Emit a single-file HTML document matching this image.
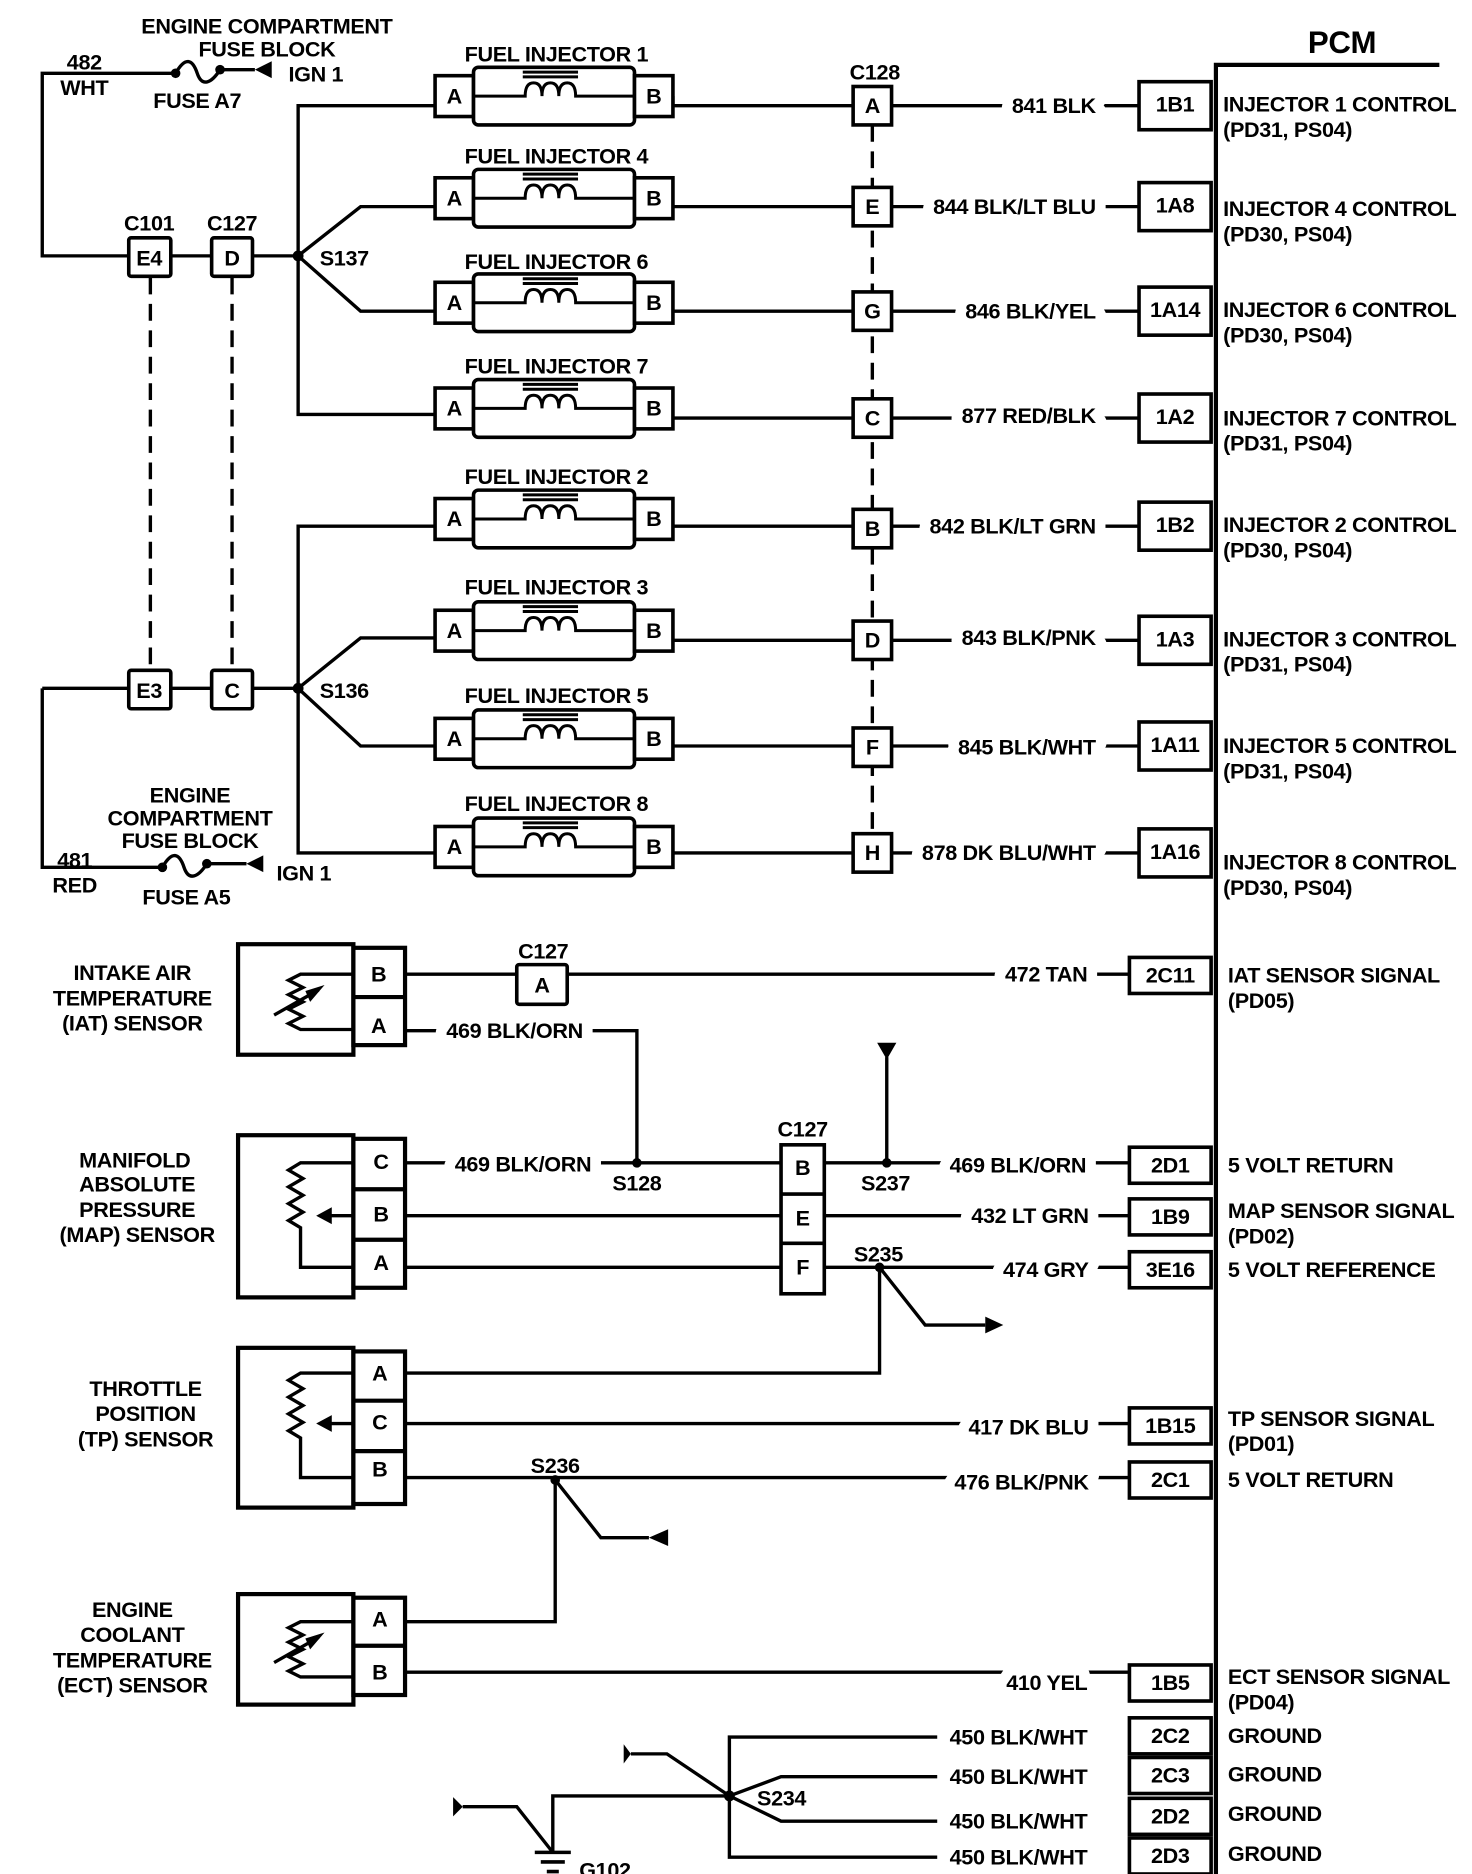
<!DOCTYPE html>
<html><head><meta charset="utf-8"><style>
html,body{margin:0;padding:0;background:#fff;}
svg{display:block}
text{font-family:"Liberation Sans",Arial,sans-serif;font-size:18px;font-weight:bold;fill:#000;letter-spacing:-0.3px}
.h{paint-order:stroke;stroke:#fff;stroke-width:18px;stroke-linejoin:round}
.c{text-anchor:middle}
.e{text-anchor:end}
</style></head><body>
<svg width="1472" height="1874" viewBox="0 0 1225 1560" xmlns="http://www.w3.org/2000/svg">
<defs>
<g id="inj" fill="none" stroke="#000">
<rect x="362" y="-17" width="32" height="34" stroke-width="3" fill="#fff"/>
<rect x="394" y="-24" width="134" height="48" rx="4" stroke-width="3" fill="#fff"/>
<path d="M394 0H437 q0 -11 7 -11 q7 0 7 11 q0 -11 7 -11 q7 0 7 11 q0 -11 7 -11 q7 0 7 11 H528" stroke-width="2.5"/>
<path d="M435 -16H481M435 -20H481" stroke-width="2.5"/>
<rect x="528" y="-17" width="32" height="34" stroke-width="3" fill="#fff"/>
</g>
</defs>
<g stroke="#000" fill="none" stroke-width="2.8">
<path d="M1012 1560V54H1198" stroke-width="3.5"/>
<path d="M146 61H35V213H248"/>
<path d="M146 61c8-14 14-12 18 0s12 8 19-3"/>
<path d="M183 58H212"/>
<path d="M35 573H248M35 573V722H135"/>
<path d="M135 722c8-14 14-12 18 0s12 8 19-3"/>
<path d="M172 719H205"/>
<path d="M125 231V558M193 231V558" stroke-dasharray="14 8"/>
<path d="M726 104V694" stroke-dasharray="14 8"/>
<path d="M362 88H248V345H362M248 213L300 172H362M248 213L300 259H362"/>
<path d="M362 438H248V710H362M248 573L300 531H362M248 573L300 621H362"/>
<path d="M560 80L560 88H710M742 88H948"/>
<path d="M560 172H710M742 172H948"/>
<path d="M560 259H710M742 259H948"/>
<path d="M560 348H710M742 348H948"/>
<path d="M560 438H710M742 438H948"/>
<path d="M560 533H710M742 533H948"/>
<path d="M560 621H710M742 621H948"/>
<path d="M560 710H710M742 710H948"/>
</g>
<use href="#inj" y="80"/><use href="#inj" y="165"/><use href="#inj" y="252"/><use href="#inj" y="340"/>
<use href="#inj" y="432"/><use href="#inj" y="525"/><use href="#inj" y="615"/><use href="#inj" y="705"/>
<g fill="#000">
<circle cx="146" cy="61" r="4"/><circle cx="183" cy="58" r="4"/>
<circle cx="135" cy="722" r="4"/><circle cx="172" cy="719" r="4"/>
<circle cx="248" cy="213" r="4.5"/><circle cx="248" cy="573" r="4.5"/>
<path d="M212 58L226 51V65Z"/><path d="M205 719L219 712V726Z"/>
</g>
<g fill="#fff" stroke="#000" stroke-width="3">
<rect x="107" y="198" width="35" height="32" rx="2"/><rect x="176" y="198" width="34" height="32" rx="2"/>
<rect x="107" y="558" width="35" height="32" rx="2"/><rect x="176" y="558" width="34" height="32" rx="2"/>
<rect x="710" y="72" width="32" height="32"/><rect x="710" y="156" width="32" height="32"/>
<rect x="710" y="243" width="32" height="32"/><rect x="710" y="332" width="32" height="32"/>
<rect x="710" y="424" width="32" height="32"/><rect x="710" y="517" width="32" height="32"/>
<rect x="710" y="606" width="32" height="32"/><rect x="710" y="694" width="32" height="32"/>
<rect x="948" y="68" width="60" height="40"/><rect x="948" y="152" width="60" height="40"/>
<rect x="948" y="239" width="60" height="40"/><rect x="948" y="328" width="60" height="40"/>
<rect x="948" y="418" width="60" height="40"/><rect x="948" y="513" width="60" height="40"/>
<rect x="948" y="601" width="60" height="40"/><rect x="948" y="690" width="60" height="40"/>
</g>
<g>
<text x="222" y="28" class="c">ENGINE COMPARTMENT</text><text x="222" y="47" class="c">FUSE BLOCK</text>
<text x="240" y="68">IGN 1</text><text x="164" y="90" class="c">FUSE A7</text>
<text x="70" y="58" class="c">482</text><text x="70" y="79" class="c">WHT</text>
<text x="124" y="192" class="c">C101</text><text x="193" y="192" class="c">C127</text>
<text x="124" y="221" class="c">E4</text><text x="193" y="221" class="c">D</text>
<text x="124" y="581" class="c">E3</text><text x="193" y="581" class="c">C</text>
<text x="266" y="221">S137</text><text x="266" y="581">S136</text>
<text x="158" y="668" class="c">ENGINE</text><text x="158" y="687" class="c">COMPARTMENT</text><text x="158" y="706" class="c">FUSE BLOCK</text>
<text x="230" y="733">IGN 1</text><text x="155" y="753" class="c">FUSE A5</text>
<text x="62" y="722" class="c">481</text><text x="62" y="743" class="c">RED</text>
<text x="463" y="51" class="c">FUEL INJECTOR 1</text><text x="463" y="136" class="c">FUEL INJECTOR 4</text>
<text x="463" y="224" class="c">FUEL INJECTOR 6</text><text x="463" y="311" class="c">FUEL INJECTOR 7</text>
<text x="463" y="403" class="c">FUEL INJECTOR 2</text><text x="463" y="495" class="c">FUEL INJECTOR 3</text>
<text x="463" y="585" class="c">FUEL INJECTOR 5</text><text x="463" y="675" class="c">FUEL INJECTOR 8</text>
<text x="378" y="86" class="c">A</text><text x="544" y="86" class="c">B</text>
<text x="378" y="171" class="c">A</text><text x="544" y="171" class="c">B</text>
<text x="378" y="258" class="c">A</text><text x="544" y="258" class="c">B</text>
<text x="378" y="346" class="c">A</text><text x="544" y="346" class="c">B</text>
<text x="378" y="438" class="c">A</text><text x="544" y="438" class="c">B</text>
<text x="378" y="531" class="c">A</text><text x="544" y="531" class="c">B</text>
<text x="378" y="621" class="c">A</text><text x="544" y="621" class="c">B</text>
<text x="378" y="711" class="c">A</text><text x="544" y="711" class="c">B</text>
<text x="728" y="66" class="c">C128</text>
<text x="726" y="94" class="c">A</text><text x="726" y="178" class="c">E</text><text x="726" y="265" class="c">G</text><text x="726" y="354" class="c">C</text>
<text x="726" y="446" class="c">B</text><text x="726" y="539" class="c">D</text><text x="726" y="628" class="c">F</text><text x="726" y="716" class="c">H</text>
<text x="912" y="94" class="e h">841 BLK</text><text x="912" y="178" class="e h">844 BLK/LT BLU</text>
<text x="912" y="265" class="e h">846 BLK/YEL</text><text x="912" y="352" class="e h">877 RED/BLK</text>
<text x="912" y="444" class="e h">842 BLK/LT GRN</text><text x="912" y="537" class="e h">843 BLK/PNK</text>
<text x="912" y="628" class="e h">845 BLK/WHT</text><text x="912" y="716" class="e h">878 DK BLU/WHT</text>
<text x="978" y="93" class="c">1B1</text><text x="978" y="177" class="c">1A8</text><text x="978" y="264" class="c">1A14</text><text x="978" y="353" class="c">1A2</text>
<text x="978" y="443" class="c">1B2</text><text x="978" y="538" class="c">1A3</text><text x="978" y="626" class="c">1A11</text><text x="978" y="715" class="c">1A16</text>
<text x="1018" y="93">INJECTOR 1 CONTROL</text><text x="1018" y="114">(PD31, PS04)</text>
<text x="1018" y="180">INJECTOR 4 CONTROL</text><text x="1018" y="201">(PD30, PS04)</text>
<text x="1018" y="264">INJECTOR 6 CONTROL</text><text x="1018" y="285">(PD30, PS04)</text>
<text x="1018" y="354">INJECTOR 7 CONTROL</text><text x="1018" y="375">(PD31, PS04)</text>
<text x="1018" y="443">INJECTOR 2 CONTROL</text><text x="1018" y="464">(PD30, PS04)</text>
<text x="1018" y="538">INJECTOR 3 CONTROL</text><text x="1018" y="559">(PD31, PS04)</text>
<text x="1018" y="627">INJECTOR 5 CONTROL</text><text x="1018" y="648">(PD31, PS04)</text>
<text x="1018" y="724">INJECTOR 8 CONTROL</text><text x="1018" y="745">(PD30, PS04)</text>
<text x="1117" y="44" class="c" style="font-size:26px;font-weight:bold">PCM</text>
</g>

<g stroke="#000" fill="none" stroke-width="2.8">
<path d="M337 811H430M472 811H940"/>
<path d="M337 858H530V968"/>
<path d="M337 968H650M686 968H940M738 968V880"/>
<path d="M337 1012H650M686 1012H940"/>
<path d="M337 1055H650M686 1055H940"/>
<path d="M732 1055V1143H337M732 1055L770 1103H820"/>
<path d="M337 1185H940M337 1230H940"/>
<path d="M462 1232V1350H337M462 1232L500 1280H540"/>
<path d="M337 1392H940"/>
<path d="M780 1446H607V1546H780M607 1495L650 1479H780M607 1495L650 1516H780"/>
<path d="M607 1495L555 1460H525M607 1495H460V1542M460 1542L430 1504H385"/>
<path d="M445 1542H475" stroke-width="3"/><path d="M450 1550H470M455 1558H465" stroke-width="3"/>
<g stroke-width="3.5">
<rect x="198" y="786" width="96" height="92"/><rect x="294" y="789" width="43" height="81"/>
<path d="M294 830H337"/>
<rect x="198" y="945" width="96" height="135"/><rect x="294" y="948" width="43" height="124"/>
<path d="M294 990H337M294 1032H337"/>
<rect x="198" y="1122" width="96" height="133"/><rect x="294" y="1125" width="43" height="127"/>
<path d="M294 1166H337M294 1208H337"/>
<rect x="198" y="1327" width="96" height="92"/><rect x="294" y="1330" width="43" height="81"/>
<path d="M294 1370H337"/>
</g>
<path d="M294 811H250l-10 5 12 6-12 6 12 6-12 6 12 6-12 6 10 5H294"/>
<path d="M228 845L265 824"/>
<path d="M294 968H250l-10 6 12 7-12 7 12 7-12 7 12 7-12 7 10 6V1055H294M294 1012H270"/>
<path d="M294 1143H250l-10 6 12 7-12 7 12 7-12 7 12 7-12 7 10 6V1230H294M294 1185H270"/>
<path d="M294 1350H250l-10 5 12 6-12 6 12 6-12 6 12 6-12 6 10 5H294"/>
<path d="M228 1384L265 1363"/>
</g>
<g fill="#000">
<path d="M270 820L258 834 254 825Z"/><path d="M263 1012L276 1005V1019Z"/><path d="M263 1185L276 1178V1192Z"/>
<path d="M270 1359L258 1373 254 1364Z"/>
<path d="M730 868H746L738 882Z"/>
<path d="M835 1103L820 1096V1110Z"/>
<path d="M540 1280L556 1273V1287Z"/>
<path d="M525 1460L519 1452V1468Z"/><path d="M385 1504L377 1496V1512Z"/>
<circle cx="530" cy="968" r="4"/><circle cx="738" cy="968" r="4"/><circle cx="732" cy="1055" r="4"/>
<circle cx="462" cy="1232" r="4"/><circle cx="607" cy="1495" r="4.5"/>
</g>
<g fill="#fff" stroke="#000" stroke-width="3">
<rect x="430" y="803" width="42" height="33" rx="2"/>
<rect x="650" y="953" width="36" height="124"/>
<path d="M650 994H686M650 1035H686"/>
<rect x="940" y="797" width="68" height="30"/>
<rect x="940" y="955" width="68" height="30"/><rect x="940" y="998" width="68" height="30"/><rect x="940" y="1042" width="68" height="30"/>
<rect x="940" y="1172" width="68" height="30"/><rect x="940" y="1217" width="68" height="30"/>
<rect x="940" y="1386" width="68" height="30"/>
<rect x="940" y="1430" width="68" height="30"/><rect x="940" y="1463" width="68" height="30"/>
<rect x="940" y="1497" width="68" height="30"/><rect x="940" y="1530" width="68" height="30"/>
</g>
<g>
<text x="110" y="816" class="c">INTAKE AIR</text><text x="110" y="837" class="c">TEMPERATURE</text><text x="110" y="858" class="c">(IAT) SENSOR</text>
<text x="315" y="817" class="c">B</text><text x="315" y="860" class="c">A</text>
<text x="452" y="798" class="c">C127</text><text x="451" y="826" class="c">A</text>
<text x="905" y="817" class="e h">472 TAN</text>
<text x="485" y="864" class="e h">469 BLK/ORN</text>
<text x="112" y="972" class="c">MANIFOLD</text><text x="114" y="992" class="c">ABSOLUTE</text><text x="114" y="1013" class="c">PRESSURE</text><text x="114" y="1034" class="c">(MAP) SENSOR</text>
<text x="317" y="973" class="c">C</text><text x="317" y="1017" class="c">B</text><text x="317" y="1057" class="c">A</text>
<text x="492" y="975" class="e h">469 BLK/ORN</text>
<text x="530" y="991" class="c">S128</text>
<text x="668" y="946" class="c">C127</text>
<text x="668" y="978" class="c">B</text><text x="668" y="1020" class="c">E</text><text x="668" y="1061" class="c">F</text>
<text x="737" y="991" class="c">S237</text>
<text x="904" y="976" class="e h">469 BLK/ORN</text>
<text x="906" y="1018" class="e h">432 LT GRN</text>
<text x="731" y="1050" class="c">S235</text>
<text x="906" y="1063" class="e h">474 GRY</text>
<text x="121" y="1162" class="c">THROTTLE</text><text x="121" y="1183" class="c">POSITION</text><text x="121" y="1204" class="c">(TP) SENSOR</text>
<text x="316" y="1149" class="c">A</text><text x="316" y="1190" class="c">C</text><text x="316" y="1229" class="c">B</text>
<text x="906" y="1194" class="e h">417 DK BLU</text>
<text x="906" y="1240" class="e h">476 BLK/PNK</text>
<text x="462" y="1226" class="c">S236</text>
<text x="110" y="1346" class="c">ENGINE</text><text x="110" y="1367" class="c">COOLANT</text><text x="110" y="1388" class="c">TEMPERATURE</text><text x="110" y="1409" class="c">(ECT) SENSOR</text>
<text x="316" y="1354" class="c">A</text><text x="316" y="1398" class="c">B</text>
<text x="905" y="1407" class="e h">410 YEL</text>
<text x="905" y="1452" class="e h">450 BLK/WHT</text><text x="905" y="1485" class="e h">450 BLK/WHT</text>
<text x="905" y="1522" class="e h">450 BLK/WHT</text><text x="905" y="1552" class="e h">450 BLK/WHT</text>
<text x="630" y="1503">S234</text><text x="482" y="1563">G102</text>
<text x="974" y="818" class="c">2C11</text><text x="974" y="976" class="c">2D1</text><text x="974" y="1019" class="c">1B9</text><text x="974" y="1063" class="c">3E16</text>
<text x="974" y="1193" class="c">1B15</text><text x="974" y="1238" class="c">2C1</text><text x="974" y="1407" class="c">1B5</text>
<text x="974" y="1451" class="c">2C2</text><text x="974" y="1484" class="c">2C3</text><text x="974" y="1518" class="c">2D2</text><text x="974" y="1551" class="c">2D3</text>
<text x="1022" y="818">IAT SENSOR SIGNAL</text><text x="1022" y="839">(PD05)</text>
<text x="1022" y="976">5 VOLT RETURN</text>
<text x="1022" y="1014">MAP SENSOR SIGNAL</text><text x="1022" y="1035">(PD02)</text>
<text x="1022" y="1063">5 VOLT REFERENCE</text>
<text x="1022" y="1187">TP SENSOR SIGNAL</text><text x="1022" y="1208">(PD01)</text>
<text x="1022" y="1238">5 VOLT RETURN</text>
<text x="1022" y="1402">ECT SENSOR SIGNAL</text><text x="1022" y="1423">(PD04)</text>
<text x="1022" y="1451">GROUND</text><text x="1022" y="1483">GROUND</text><text x="1022" y="1516">GROUND</text><text x="1022" y="1549">GROUND</text>
</g>
</svg>
</body></html>
